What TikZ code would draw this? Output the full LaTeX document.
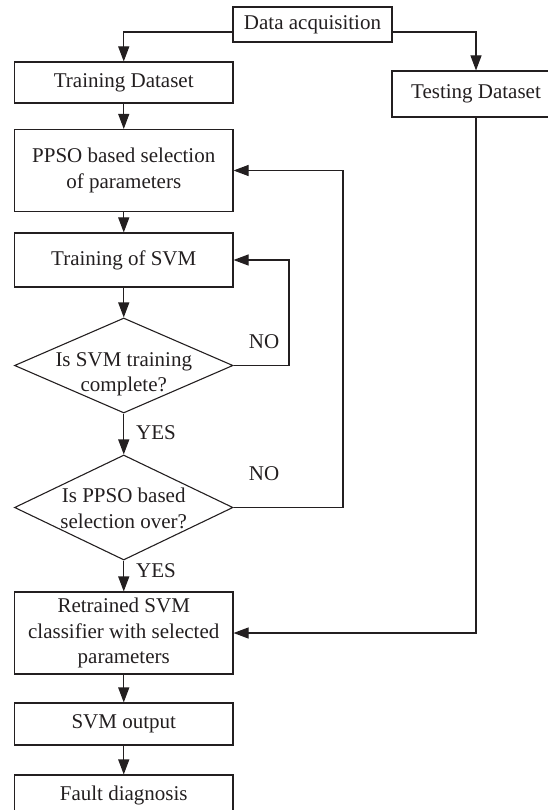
\documentclass[tikz,border=0pt]{standalone}
\usepackage{fontspec}
\setmainfont{Liberation Serif}
\usetikzlibrary{shapes.geometric,arrows.meta}
\definecolor{lc}{RGB}{35,31,32}
\begin{document}
\begin{tikzpicture}[x=1pt,y=-1pt,
  every node/.append style={font=\fontsize{21}{25.5}\selectfont, text=lc},
  box/.style={draw=lc, line width=1.1pt, rectangle, inner sep=0pt, align=center, minimum width=218.5pt},
  dia/.style={draw=lc, line width=1.1pt, diamond, inner sep=0pt, minimum width=218.5pt},
  conn/.style={draw=lc, line width=1.1pt, -{Triangle[length=15pt,width=11pt]}},
  lbl/.style={inner sep=0pt}]
\useasboundingbox (0,0) rectangle (548,810);
% nodes
\node[box, minimum width=159pt, minimum height=35pt] (data) at (312.5,24.5) {Data acquisition};
\node[box, minimum height=41pt] (train) at (123.75,82.5) {Training Dataset};
\node[box, minimum width=168pt, minimum height=46pt] (test) at (476,94) {Testing Dataset};
\node[box, minimum height=82pt] (ppso) at (123.75,170.5) {PPSO based selection\\of parameters};
\node[box, minimum height=54pt] (tsvm) at (123.75,260) {Training of SVM};
\node[dia, minimum height=95pt, label={[align=center, yshift=-9pt]center:Is SVM training\\complete?}] (d1) at (123.75,365.5) {};
\node[dia, minimum height=105pt, label={[align=center, yshift=-1pt]center:Is PPSO based\\selection over?}] (d2) at (123.75,507.5) {};
\node[box, minimum height=82pt] (retr) at (123.75,633) {Retrained SVM\\classifier with selected\\parameters};
\node[box, minimum height=42pt] (out) at (123.75,724) {SVM output};
\node[box, minimum height=40pt] (fault) at (123.75,795) {Fault diagnosis};
% labels
\node[lbl] (no1) at (264,342) {NO};
\node[lbl] (no2) at (264,474) {NO};
\node[lbl] (yes1) at (156,433) {YES};
\node[lbl] (yes2) at (156,571) {YES};
% helper coordinates
\coordinate (r1) at (289,0);
\coordinate (r2) at (343,0);
% connectors
\draw[conn] ([yshift=-7.5pt]data.west) -| (train.north);
\draw[conn] ([yshift=-7.5pt]data.east) -| (test.north);
\draw[conn] (train.south) -- (ppso.north);
\draw[conn] (ppso.south) -- (tsvm.north);
\draw[conn] (tsvm.south) -- (d1.north);
\draw[conn] (d1.south) -- (d2.north);
\draw[conn] (d2.south) -- (retr.north);
\draw[conn] (retr.south) -- (out.north);
\draw[conn] (out.south) -- (fault.north);
\draw[conn] (d1.east) -- (d1.east -| r1) |- (tsvm.east);
\draw[conn] (d2.east) -- (d2.east -| r2) |- (ppso.east);
\draw[conn] (test.south) |- (retr.east);
\end{tikzpicture}
\end{document}
